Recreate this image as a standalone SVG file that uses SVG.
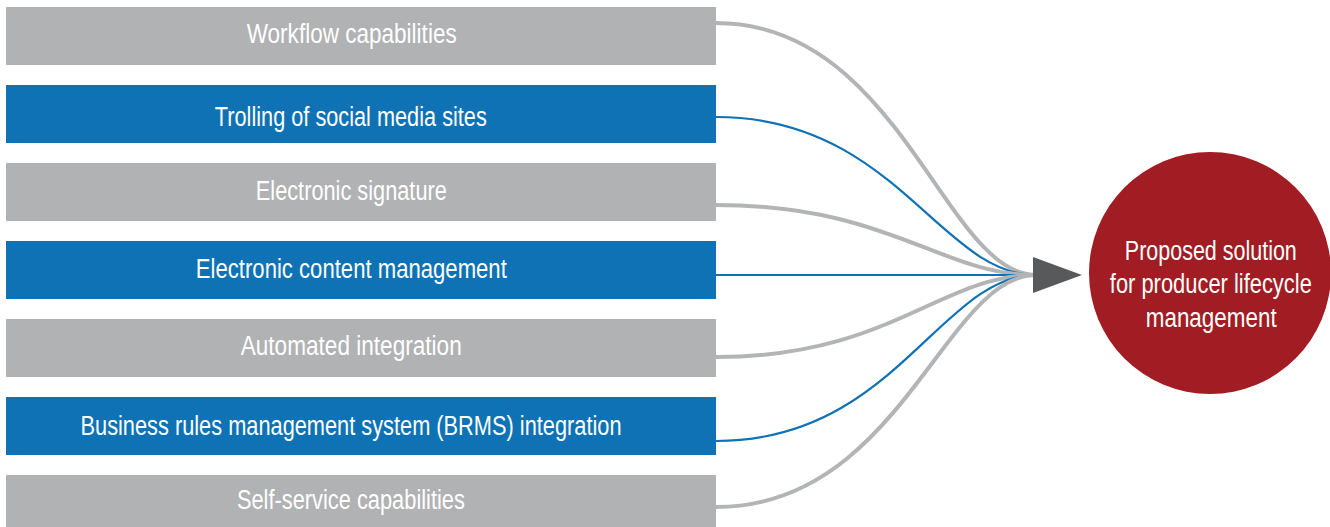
<svg xmlns="http://www.w3.org/2000/svg" width="1330" height="527" viewBox="0 0 1330 527">
  <style>
    .box-gray { fill: #b1b2b4; }
    .box-blue { fill: #0e72b5; }
    .label { font-family: "Liberation Sans", Arial, sans-serif; font-size: 28px; fill: #ffffff; text-anchor: middle; }
    .link-gray { fill: none; stroke: #b3b4b6; stroke-width: 4; }
    .link-blue { fill: none; stroke: #0e72b5; stroke-width: 2.2; }
  </style>
  <rect width="1330" height="527" fill="#ffffff"/>

  <!-- connectors: each capability curves into the shared arrow -->
  <g id="connectors">
    <path class="link-gray" d="M716,23 C900,23 945,275 1036,275"/>
    <path class="link-blue" d="M716,117 C895,117 940,275 1036,275"/>
    <path class="link-gray" d="M716,205 C890,205 940,275 1036,275"/>
    <path class="link-blue" d="M716,275 L1036,275"/>
    <path class="link-gray" d="M716,357 C890,357 940,275 1036,275"/>
    <path class="link-blue" d="M716,441 C895,441 940,275 1036,275"/>
    <path class="link-gray" d="M716,507 C900,507 945,275 1036,275"/>
    <polygon id="arrowhead" points="1033,257 1082,275 1033,293" fill="#58595b"/>
  </g>

  <!-- labels use a condensed look: horizontal scale 0.78 -->
  <g id="node-workflow">
    <rect class="box-gray" x="6" y="7" width="710" height="58"/>
    <text class="label" transform="translate(351.7,43.3) scale(0.78,1)" textLength="269.2" lengthAdjust="spacingAndGlyphs">Workflow capabilities</text>
  </g>
  <g id="node-trolling">
    <rect class="box-blue" x="6" y="85" width="710" height="58"/>
    <text class="label" transform="translate(350.8,126) scale(0.78,1)" textLength="348.7" lengthAdjust="spacingAndGlyphs">Trolling of social media sites</text>
  </g>
  <g id="node-esignature">
    <rect class="box-gray" x="6" y="163" width="710" height="58"/>
    <text class="label" transform="translate(351.3,200) scale(0.78,1)" textLength="244.9" lengthAdjust="spacingAndGlyphs">Electronic signature</text>
  </g>
  <g id="node-ecm">
    <rect class="box-blue" x="6" y="241" width="710" height="58"/>
    <text class="label" transform="translate(351.3,278.3) scale(0.78,1)" textLength="398.7" lengthAdjust="spacingAndGlyphs">Electronic content management</text>
  </g>
  <g id="node-automated">
    <rect class="box-gray" x="6" y="319" width="710" height="58"/>
    <text class="label" transform="translate(351.2,355) scale(0.78,1)" textLength="283.3" lengthAdjust="spacingAndGlyphs">Automated integration</text>
  </g>
  <g id="node-brms">
    <rect class="box-blue" x="6" y="397" width="710" height="58"/>
    <text class="label" transform="translate(351,435) scale(0.78,1)" textLength="693.6" lengthAdjust="spacingAndGlyphs">Business rules management system (BRMS) integration</text>
  </g>
  <g id="node-selfservice">
    <rect class="box-gray" x="6" y="475" width="710" height="58"/>
    <text class="label" transform="translate(350.9,509.3) scale(0.78,1)" textLength="292.3" lengthAdjust="spacingAndGlyphs">Self-service capabilities</text>
  </g>

  <g id="node-solution">
    <circle cx="1210" cy="273" r="121" fill="#a21c23"/>
    <text class="label" transform="translate(1210.8,260) scale(0.78,1)" textLength="220.5" lengthAdjust="spacingAndGlyphs">Proposed solution</text>
    <text class="label" transform="translate(1210.8,293.3) scale(0.78,1)" textLength="259" lengthAdjust="spacingAndGlyphs">for producer lifecycle</text>
    <text class="label" transform="translate(1211.2,326.7) scale(0.78,1)" textLength="167.9" lengthAdjust="spacingAndGlyphs">management</text>
  </g>
</svg>
